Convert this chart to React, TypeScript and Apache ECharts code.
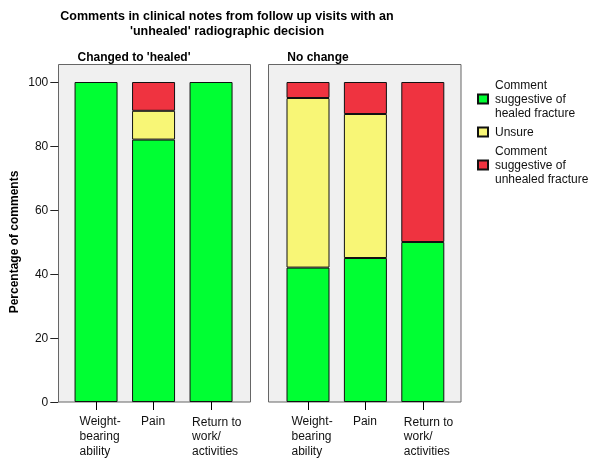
import React, { useEffect, useRef } from "react";
import * as echarts from "echarts";

const categories = ["Weight-bearing ability", "Pain", "Return to work/activities"];
const seriesNames = [
  "Comment suggestive of healed fracture",
  "Unsure",
  "Comment suggestive of unhealed fracture",
];
const legendLabels = [
  "Comment\nsuggestive of\nhealed fracture",
  "Unsure",
  "Comment\nsuggestive of\nunhealed fracture",
];
const panelTitles = ["Changed to 'healed'", "No change"];
const yTicks = [0, 20, 40, 60, 80, 100];

// Changed to 'healed'
const changedHealed = [100, 82, 100];
const changedUnsure = [0, 9, 0];
const changedUnhealed = [0, 9, 0];
// No change
const noChangeHealed = [42, 45, 50];
const noChangeUnsure = [53, 45, 0];
const noChangeUnhealed = [5, 10, 50];

const colors = ["#00ff33", "#f8f676", "#ef3340"];
const FONT = "'Liberation Sans', Arial, sans-serif";

const labelLines: Record<string, string[]> = {
  "Weight-bearing ability": ["Weight-", "bearing", "ability"],
  Pain: ["Pain"],
  "Return to work/activities": ["Return to", "work/", "activities"],
};

function labelFormatter(value: string, idx: number) {
  const lines = labelLines[value] || [value];
  const key = ["w", "p", "r"][idx];
  return lines
    .map((l, i) => (idx === 2 && i === 0 ? `{r1|${l}}` : `{${key}|${l}}`))
    .join("\n");
}

const rich = {
  w: { width: 33, align: "left", lineHeight: 15, fontSize: 12, fontFamily: FONT, color: "#111" },
  p: { width: 25, align: "left", lineHeight: 15, fontSize: 12, fontFamily: FONT, color: "#111" },
  r: { width: 38, align: "left", lineHeight: 15, fontSize: 12, fontFamily: FONT, color: "#111" },
  r1: { width: 38, align: "left", lineHeight: 15, fontSize: 12, fontFamily: FONT, color: "#111", padding: [3, 0, 0, 0] },
};

export default function App() {
  const ref = useRef<HTMLDivElement>(null);
  useEffect(() => {
    if (!ref.current) return;
    const chart = echarts.init(ref.current, null, { renderer: "svg" });

    const barStyle = (c: string) => ({ color: c, borderColor: "#111", borderWidth: 1 });
    const mk = (name: string, data: number[], gi: number, ci: number) => ({
      type: "bar",
      name,
      data: data.map((v) => (v === 0 ? null : v)),
      xAxisIndex: gi,
      yAxisIndex: gi,
      stack: gi === 0 ? "a" : "b",
      barWidth: 43,
      itemStyle: barStyle(colors[ci]),
      emphasis: { disabled: true },
    });

    const xAxisCommon = {
      type: "category",
      data: categories,
      axisLine: { show: false },
      axisTick: { show: true, interval: 0, alignWithLabel: true, length: 8, lineStyle: { color: "#000", width: 1 } },
      axisLabel: { interval: 0, margin: 11, formatter: labelFormatter, rich },
    };

    chart.setOption({
      animation: false,
      textStyle: { fontFamily: FONT },
      grid: [
        { left: 67.3, width: 172.5, top: 82, bottom: 64 },
        { left: 279.3, width: 172.2, top: 82, bottom: 64 },
      ],
      xAxis: [
        { ...xAxisCommon, gridIndex: 0 },
        { ...xAxisCommon, gridIndex: 1 },
      ],
      yAxis: [
        {
          type: "value",
          gridIndex: 0,
          min: 0,
          max: 100,
          interval: 20,
          offset: 9,
          splitLine: { show: false },
          axisLine: { show: false },
          axisTick: { show: true, length: 8, lineStyle: { color: "#222" } },
          axisLabel: {
            margin: 10,
            fontSize: 12,
            color: "#111",
            fontFamily: FONT,
            formatter: (v: number) => (yTicks.includes(v) ? String(v) : ""),
          },
          name: "Percentage of comments",
          nameLocation: "middle",
          nameGap: 38,
          nameTextStyle: { fontWeight: "bold", fontSize: 12, color: "#000", fontFamily: FONT },
        },
        { type: "value", gridIndex: 1, min: 0, max: 100, interval: 20, show: false },
      ],
      legend: {
        orient: "vertical",
        left: 472,
        top: 73,
        itemWidth: 10,
        itemHeight: 9,
        itemGap: 5,
        icon: "rect",
        selectedMode: false,
        data: seriesNames,
        formatter: (n: string) => legendLabels[seriesNames.indexOf(n)],
        textStyle: { fontSize: 12, lineHeight: 14, color: "#111", fontFamily: FONT, padding: [0, 0, 0, 2] },
      },
      graphic: [
        {
          type: "rect",
          z: 0,
          shape: { x: 58.5, y: 64.5, width: 192, height: 337.5 },
          style: { fill: "#f0f0f0", stroke: "#666", lineWidth: 1 },
        },
        {
          type: "rect",
          z: 0,
          shape: { x: 268.5, y: 64.5, width: 192.5, height: 337.5 },
          style: { fill: "#f0f0f0", stroke: "#666", lineWidth: 1 },
        },
        {
          type: "text",
          x: 227,
          y: 23.5,
          style: {
            text: "Comments in clinical notes from follow up visits with an\n'unhealed' radiographic decision",
            align: "center",
            verticalAlign: "middle",
            font: `bold 12.5px ${FONT}`,
            lineHeight: 15,
            fill: "#000",
          },
        },
        {
          type: "text",
          x: 134,
          y: 56.5,
          style: { text: panelTitles[0], align: "center", verticalAlign: "middle", font: `bold 12px ${FONT}`, fill: "#000" },
        },
        {
          type: "text",
          x: 318,
          y: 56.5,
          style: { text: panelTitles[1], align: "center", verticalAlign: "middle", font: `bold 12px ${FONT}`, fill: "#000" },
        },
      ],
      series: [
        mk(seriesNames[0], changedHealed, 0, 0),
        mk(seriesNames[1], changedUnsure, 0, 1),
        mk(seriesNames[2], changedUnhealed, 0, 2),
        mk(seriesNames[0], noChangeHealed, 1, 0),
        mk(seriesNames[1], noChangeUnsure, 1, 1),
        mk(seriesNames[2], noChangeUnhealed, 1, 2),
      ],
    });
    return () => chart.dispose();
  }, []);
  return <div ref={ref} style={{ width: 600, height: 466, position: "fixed", left: 0, top: 0 }} />;
}
